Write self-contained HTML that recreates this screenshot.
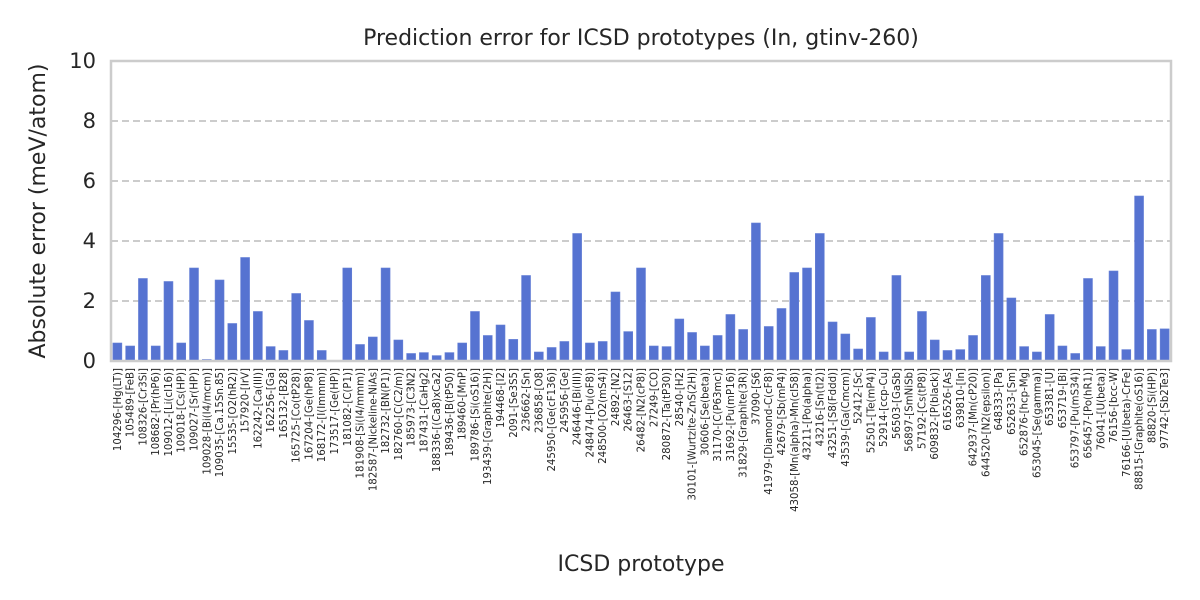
<!DOCTYPE html>
<html><head><meta charset="utf-8"><style>
body{margin:0;background:#fff;}
svg{display:block;font-family:"DejaVu Sans","Liberation Sans",sans-serif;}
</style></head><body>
<svg id="chart" width="1200" height="600">
<rect width="1200" height="600" fill="#fff"/>
<text x="641" y="45" font-size="22" text-anchor="middle" fill="#262626">Prediction error for ICSD prototypes (In, gtinv-260)</text>
<text x="641" y="571" font-size="22" text-anchor="middle" fill="#262626">ICSD prototype</text>
<text transform="translate(45,211) rotate(-90)" font-size="22" text-anchor="middle" fill="#262626">Absolute error (meV/atom)</text>
<g id="grid"></g><g id="bars"></g><g id="xt"></g><g id="yt"></g>
<rect x="111" y="61" width="1060" height="300" fill="none" stroke="#cccccc" stroke-width="2.5"/>
</svg>
<script>
const categories=["104296-[Hg(LT)]","105489-[FeB]","108326-[Cr3Si]","108682-[Pr(hP6)]","109012-[Li(cI16)]","109018-[Cs(HP)]","109027-[Sr(HP)]","109028-[Bi(I4/mcm)]","109035-[Ca.15Sn.85]","15535-[O2(hR2)]","157920-[IrV]","162242-[Ca(III)]","162256-[Ga]","165132-[B28]","165725-[Co(tP28)]","167204-[Ge(hP8)]","168172-[I(Immm)]","173517-[Ge(HP)]","181082-[C(P1)]","181908-[Si(I4/mmm)]","182587-[Nickeline-NiAs]","182732-[BN(P1)]","182760-[C(C2/m)]","185973-[C3N2]","187431-[CaHg2]","188336-[(Ca8)xCa2]","189436-[B(tP50)]","189460-[MnP]","189786-[Si(oS16)]","193439-[Graphite(2H)]","194468-[I2]","2091-[Se3S5]","236662-[Sn]","236858-[O8]","245950-[Ge(cF136)]","245956-[Ge]","246446-[Bi(III)]","248474-[Pu(oF8)]","248500-[O2(mS4)]","24892-[N2]","26463-[S12]","26482-[N2(cP8)]","27249-[CO]","280872-[Ta(tP30)]","28540-[H2]","30101-[Wurtzite-ZnS(2H)]","30606-[Se(beta)]","31170-[C(P63mc)]","31692-[Pu(mP16)]","31829-[Graphite(3R)]","37090-[S6]","41979-[Diamond-C(cF8)]","42679-[Sb(mP4)]","43058-[Mn(alpha)-Mn(cI58)]","43211-[Po(alpha)]","43216-[Sn(tI2)]","43251-[S8(Fddd)]","43539-[Ga(Cmcm)]","52412-[Sc]","52501-[Te(mP4)]","52914-[ccp-Cu]","56503-[GaSb]","56897-[SmNiSb]","57192-[Cs(tP8)]","609832-[P(black)]","616526-[As]","639810-[In]","642937-[Mn(cP20)]","644520-[N2(epsilon)]","648333-[Pa]","652633-[Sm]","652876-[hcp-Mg]","653045-[Se(gamma)]","653381-[U]","653719-[Bi]","653797-[Pu(mS34)]","656457-[Po(hR1)]","76041-[U(beta)]","76156-[bcc-W]","76166-[U(beta)-CrFe]","88815-[Graphite(oS16)]","88820-[Si(HP)]","97742-[Sb2Te3]"];
const errors=[0.6,0.5,2.75,0.5,2.65,0.6,3.1,0.05,2.7,1.25,3.45,1.65,0.48,0.35,2.25,1.35,0.35,0.0,3.1,0.55,0.8,3.1,0.7,0.25,0.28,0.18,0.28,0.6,1.65,0.85,1.2,0.72,2.85,0.3,0.45,0.65,4.25,0.6,0.65,2.3,0.98,3.1,0.5,0.48,1.4,0.95,0.5,0.85,1.55,1.05,4.6,1.15,1.75,2.95,3.1,4.25,1.3,0.9,0.4,1.45,0.3,2.85,0.3,1.65,0.7,0.35,0.38,0.85,2.85,4.25,2.1,0.48,0.3,1.55,0.5,0.25,2.75,0.48,3.0,0.38,5.5,1.05,1.07];
const yTicks=[0,2,4,6,8,10];
const X0=111,X1=1171,Y0=361,Y1=61,YMAX=10;
const NS="http://www.w3.org/2000/svg";
const band=(X1-X0)/categories.length;
const xPos=i=>X0+band*(i+0.5);
const yPos=v=>Y0-(v/YMAX)*(Y0-Y1);
function mk(tag,attrs,parent){const e=document.createElementNS(NS,tag);for(const k in attrs)e.setAttribute(k,attrs[k]);parent.appendChild(e);return e;}
const grid=document.getElementById('grid'),bars=document.getElementById('bars'),xt=document.getElementById('xt'),yt=document.getElementById('yt');
yTicks.forEach(t=>{
  if(t>0&&t<YMAX){const l=mk('line',{x1:X0,x2:X1,y1:yPos(t),y2:yPos(t),stroke:'#cccccc','stroke-width':2,'stroke-dasharray':'7,4'},grid);
  
  }
  const tx=mk('text',{x:96,y:yPos(t)+7,'font-size':21,'text-anchor':'end',fill:'#262626'},yt);
  tx.textContent=t;
  
  
});
const bw=band*0.7;
categories.forEach((c,i)=>{
  const v=errors[i];
  const r=mk('rect',{x:xPos(i)-bw/2,y:yPos(v),width:bw,height:Y0-yPos(v),fill:'#5673d1',stroke:'#6680d6','stroke-width':0.6},bars);
  
  
  const tx=mk('text',{transform:'translate('+(xPos(i)+3.5)+',368) rotate(-90)','font-size':10.2,'text-anchor':'end',fill:'#262626'},xt);
  tx.textContent=c;
  
  
});
</script>
</body></html>
